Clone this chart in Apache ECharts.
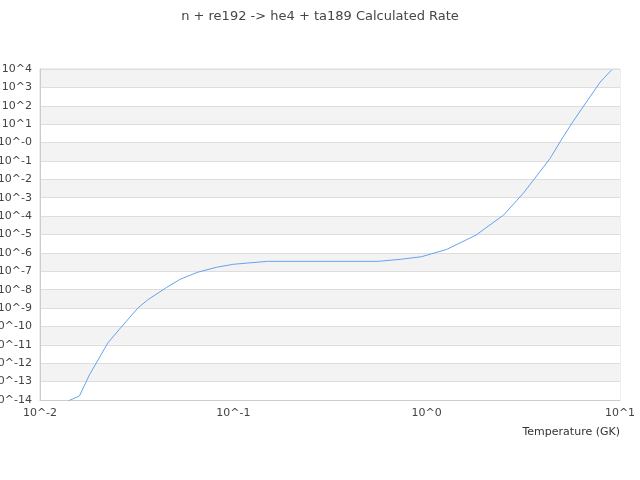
<!DOCTYPE html>
<html>
<head>
<meta charset="utf-8">
<script src="https://cdn.jsdelivr.net/npm/echarts@6/dist/echarts.min.js"></script>
<style>html,body{margin:0;padding:0;background:#fff;}#c{width:640px;height:480px;}</style>
</head>
<body>
<div id="c"></div>
<script>
var titleText = 'n + re192 -> he4 + ta189 Calculated Rate';
var xName = 'Temperature (GK)';
var temperatures = [0.014, 0.016, 0.018, 0.0225, 0.026, 0.032, 0.036, 0.045, 0.053, 0.065, 0.082, 0.1, 0.15, 0.56, 0.73, 0.94, 1.27, 1.8, 2.5, 3.16, 3.63, 4.35, 5.0, 5.7, 7.9, 9.06];
var rates = [8.9e-15, 1.66e-14, 2.29e-13, 1.32e-11, 7.9e-11, 9.8e-10, 2.75e-9, 1.29e-8, 3.63e-8, 8.7e-8, 1.66e-7, 2.4e-7, 3.47e-7, 3.47e-7, 4.47e-7, 6.17e-7, 1.55e-6, 9.3e-6, 1.15e-4, 1.74e-3, 1.15e-2, 0.138, 1.55, 13.5, 1950, 8900];
var xTickLabels = {'-2': '10^-2', '-1': '10^-1', '0': '10^0', '1': '10^1'};
var yTickLabels = {'-14':'10^-14','-13':'10^-13','-12':'10^-12','-11':'10^-11','-10':'10^-10','-9':'10^-9','-8':'10^-8','-7':'10^-7','-6':'10^-6','-5':'10^-5','-4':'10^-4','-3':'10^-3','-2':'10^-2','-1':'10^-1','0':'10^-0','1':'10^1','2':'10^2','3':'10^3','4':'10^4'};

var data = temperatures.map(function (t, i) { return [t, rates[i]]; });
var chart = echarts.init(document.getElementById('c'));
chart.setOption({
  animation: false,
  title: {
    text: titleText, left: 'center', top: 5,
    textStyle: { fontSize: 13, fontWeight: 'normal', color: '#464646', fontFamily: 'DejaVu Sans' }
  },
  grid: { left: 40, right: 20, top: 69, bottom: 80, containLabel: false, outerBoundsMode: 'none', show: true, borderColor: '#ddd', borderWidth: 1, backgroundColor: 'transparent' },
  xAxis: {
    type: 'log', logBase: 10, min: 0.01, max: 10, interval: 1,
    name: xName, nameLocation: 'end', nameGap: 0,
    nameTextStyle: { align: 'right', verticalAlign: 'top', padding: [27, 0, 0, 0], fontSize: 11, color: '#333', fontFamily: 'DejaVu Sans' },
    axisLine: { lineStyle: { color: '#ccc' } },
    axisTick: { show: false },
    splitLine: { show: false },
    axisLabel: {
      fontSize: 11, color: '#444', fontFamily: 'DejaVu Sans', margin: 8,
      formatter: function (v) { return xTickLabels[String(Math.round(Math.log10(v)))] || ''; }
    }
  },
  yAxis: {
    type: 'log', logBase: 10, min: 1e-14, max: 1e4, interval: 1,
    axisLine: { show: true, lineStyle: { color: '#ccc' } },
    axisTick: { show: false },
    splitLine: { show: true, lineStyle: { color: '#ddd' } },
    splitArea: { show: true, areaStyle: { color: ['#ffffff', '#f3f3f3'] } },
    axisLabel: {
      fontSize: 11, color: '#444', fontFamily: 'DejaVu Sans', margin: 8,
      formatter: function (v) { return yTickLabels[String(Math.round(Math.log10(v)))] || ''; }
    }
  },
  series: [{
    type: 'line', data: data, showSymbol: false, symbol: 'none', smooth: false,
    lineStyle: { color: '#62a4f0', width: 1 }, itemStyle: { color: '#62a4f0' }
  }]
});
</script>
</body>
</html>
